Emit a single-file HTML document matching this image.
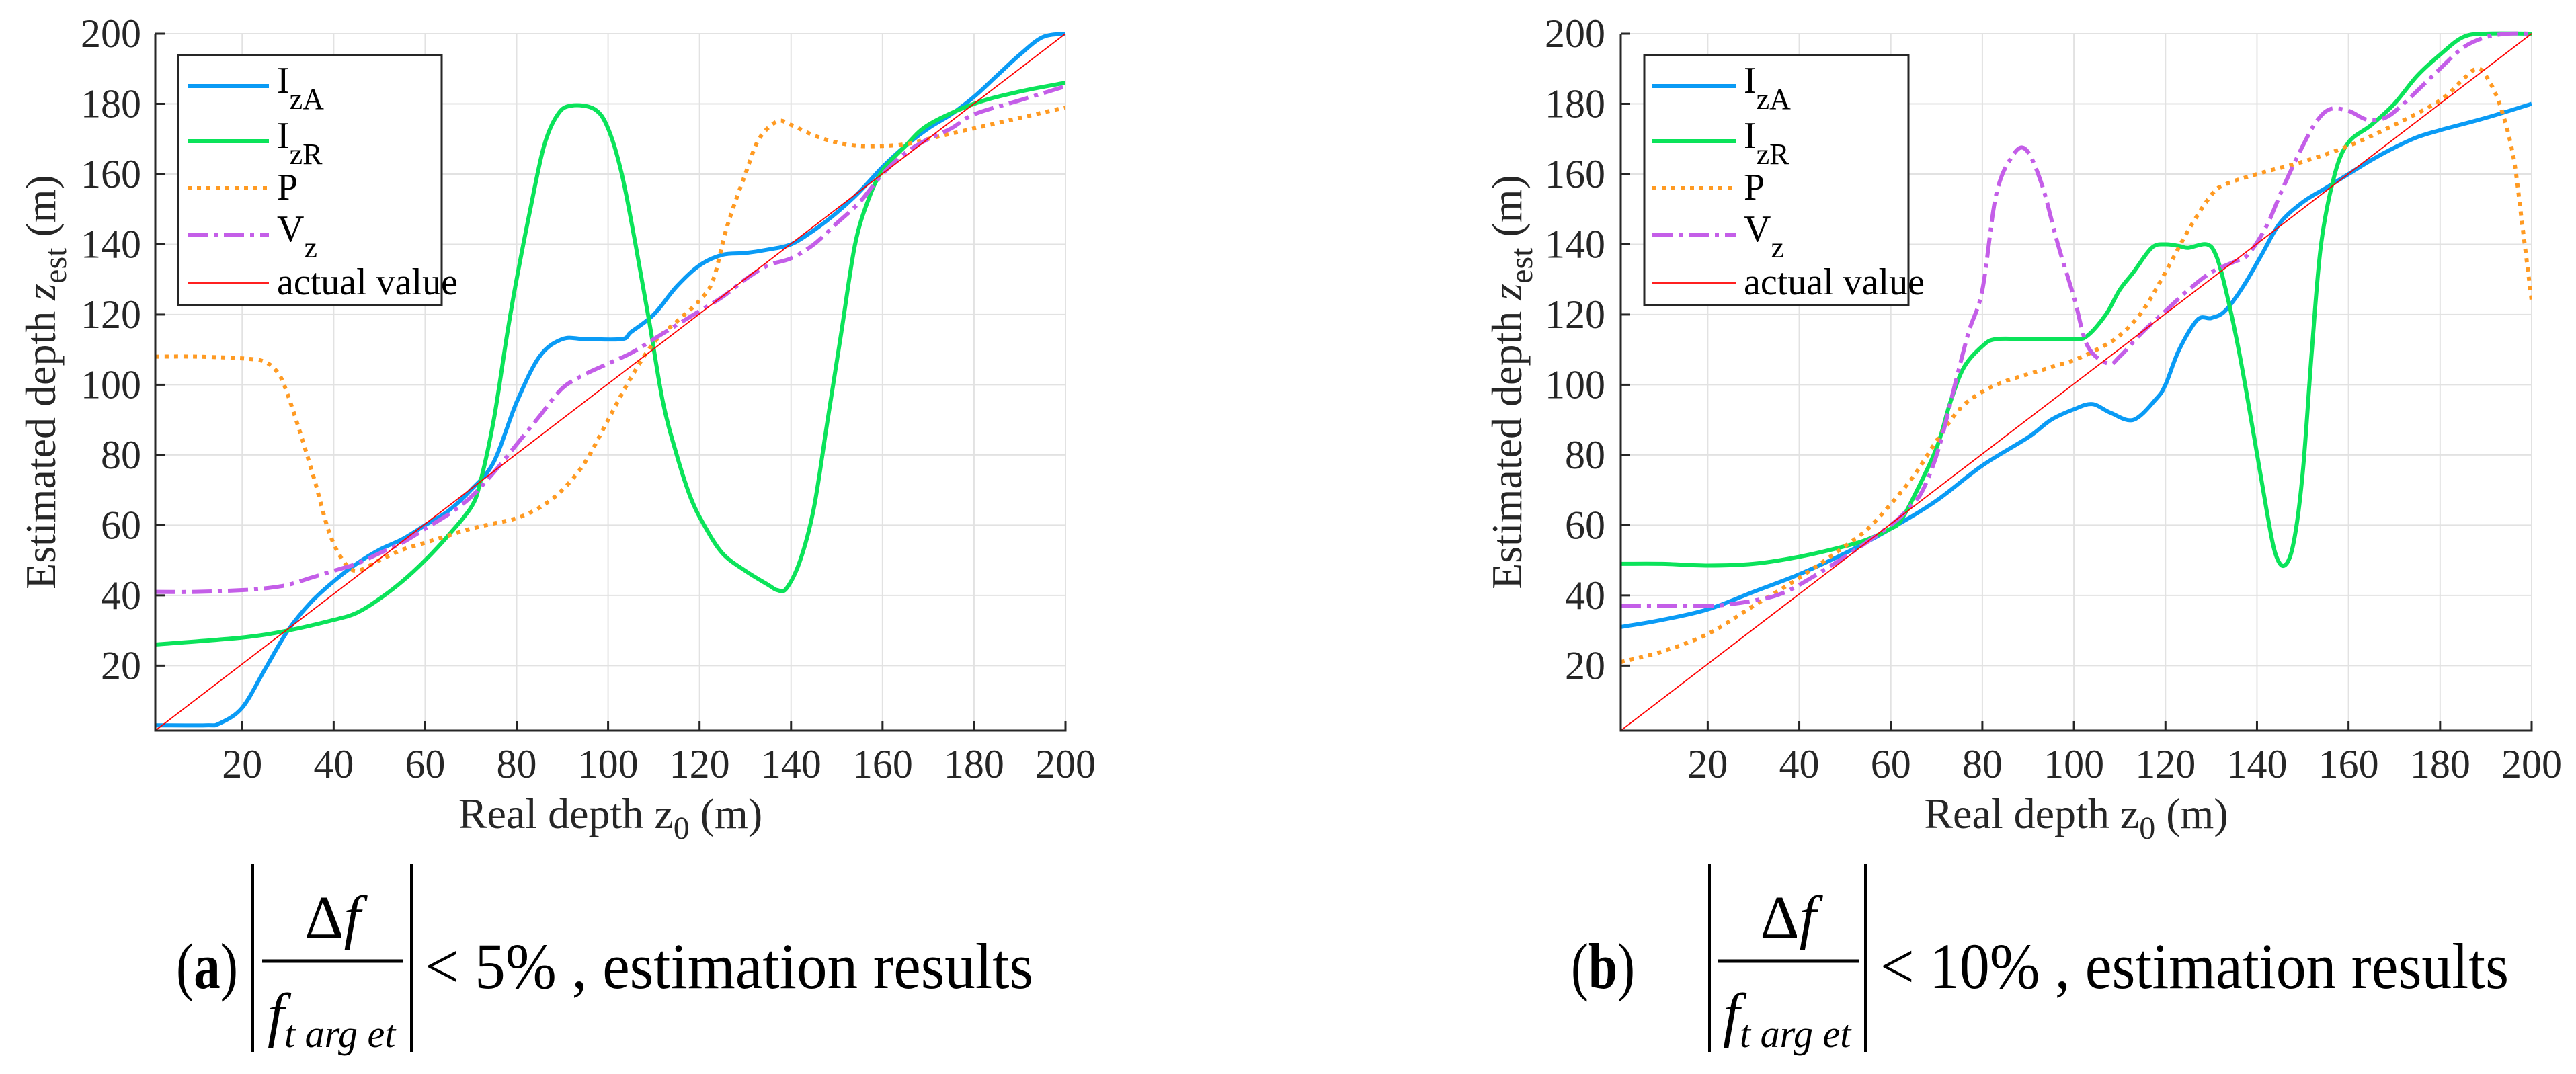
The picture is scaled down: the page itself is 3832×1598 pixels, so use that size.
<!DOCTYPE html>
<html><head><meta charset="utf-8"><style>
html,body{margin:0;padding:0;background:#fff;}
svg{display:block;font-family:"Liberation Serif",serif;}
</style></head><body>
<svg id="fig" width="3832" height="1598" viewBox="0 0 3832 1598" xmlns="http://www.w3.org/2000/svg">
<g id="panelA"></g>
<g id="panelB"></g>
<g font-size="96" fill="#000">
  <text x="262" y="1470" textLength="92" lengthAdjust="spacingAndGlyphs">(<tspan font-weight="bold">a</tspan>)</text>
  <line x1="376" y1="1285" x2="376" y2="1565" stroke="#000" stroke-width="4"/>
  <line x1="612" y1="1285" x2="612" y2="1565" stroke="#000" stroke-width="4"/>
  <line x1="390" y1="1430" x2="600" y2="1430" stroke="#000" stroke-width="5"/>
  <text x="495" y="1395" text-anchor="middle" font-size="90">Δ<tspan font-style="italic">f</tspan></text>
  <text x="398" y="1540" font-style="italic" font-size="90">f<tspan font-size="58" dy="18">t arg et</tspan></text>
  <text x="632" y="1470" textLength="905" lengthAdjust="spacingAndGlyphs">&lt; 5% , estimation results</text>
</g>
<g font-size="96" fill="#000">
  <text x="2337" y="1470" textLength="95" lengthAdjust="spacingAndGlyphs">(<tspan font-weight="bold">b</tspan>)</text>
  <line x1="2543" y1="1285" x2="2543" y2="1565" stroke="#000" stroke-width="4"/>
  <line x1="2775" y1="1285" x2="2775" y2="1565" stroke="#000" stroke-width="4"/>
  <line x1="2555" y1="1430" x2="2765" y2="1430" stroke="#000" stroke-width="5"/>
  <text x="2660" y="1395" text-anchor="middle" font-size="90">Δ<tspan font-style="italic">f</tspan></text>
  <text x="2563" y="1540" font-style="italic" font-size="90">f<tspan font-size="58" dy="18">t arg et</tspan></text>
  <text x="2797" y="1470" textLength="935" lengthAdjust="spacingAndGlyphs">&lt; 10% , estimation results</text>
</g>
</svg>
<script>
// ---- data (panel a) ----
const aIzA_x=[1,12,15,20,25,30,35,40,45,50,55,60,65,70,75,80,85,90,95,103,105,110,115,120,125,130,135,140,145,150,155,160,165,170,175,180,185,190,195,200];
const aIzA_y=[3,3,3.5,8,19,30,38,44,49,53,56,60,64,70,78,95,108,113,113,113,115,120,128,134,137,137.5,138.5,140,144,149,155,162,168,173,177,182,188,194,199,200];
const aIzR_x=[1,20,30,40,45,50,55,60,65,70,72,75,78,80,83,86,89,92,97,100,103,106,109,112,115,118,121,125,130,135,137,139,142,145,148,151,154,157,160,165,170,180,190,200];
const aIzR_y=[26,28,30,33,35,39,44,50,57,65,72,90,115,130,150,168,177,179.5,178.5,173,160,140,118,95,80,68,60,52,47,43,41.5,42,50,65,90,115,140,153,161,168,174,180,183.5,186];
const aP_x=[1,10,20,25,28,30,33,36,39,42,45,50,55,60,65,70,75,80,85,90,95,100,105,110,115,120,123,126,130,133,137,140,145,150,155,160,165,170,180,190,200];
const aP_y=[108,108,107.5,106.5,103,97,85,72,58,50,47,50,53,55,57,59,60.5,62,65,70,78,90,102,112,118,124,130,145,160,170,175,174,171,169,168,168,168.5,170,173,176,179];
const aV_x=[1,10,20,25,30,35,40,45,50,55,60,65,70,75,80,85,90,95,100,105,110,115,120,125,130,135,140,145,150,155,160,165,170,175,180,190,200];
const aV_y=[41,41,41.5,42,43,45,47,49,52,55,59,63,68,75,83,91,99,103,106,109,113,117,121,125,130,134,136,140,146,152,160,166,170,173,177,181,185];
// ---- data (panel b) ----
const bIzA_x=[1,10,20,30,40,50,60,70,80,90,95,100,104,108,113,118,120,123,127,130,133,137,141,145,150,155,160,165,170,175,180,190,200];
const bIzA_y=[31,33,36,41,46,52,59,67,77,85,90,93,94.5,92,90,96,100,110,118.5,119,121,128,137,146,152,156,160,164,167.5,170.5,172.5,176,180];
const bIzR_x=[1,10,20,30,40,50,55,60,62,65,70,73,76,80,83,90,100,103,107,110,113,117,120,123,125,129,131,133,136,139,142,144,146,148,150,152,154,157,160,165,170,175,180,185,190,200];
const bIzR_y=[49,49,48.5,49,51,54,56,59,61,68,82,95,105,111,113,113,113,114,120,127,132,139,140,139.5,139,140,137,128,110,88,65,52,48.5,55,75,110,140,160,169,174,180,188,194,199,200,200];
const bP_x=[1,10,20,30,40,50,55,60,65,70,75,80,85,90,95,100,105,110,115,120,125,130,133,140,150,160,170,180,185,188,190,193,196,198,200];
const bP_y=[21,24,29,37,45,54,59,66,74,84,93,98,101,103,105,107,110,114,121,132,144,154,157,160,163.5,168,174,181,187,190,188,180,165,145,124];
const bV_x=[1,10,20,25,30,35,40,50,60,64,67,70.5,74,77,80,83,86.5,89.5,93,96.5,100,103,107.5,110,115,120,125,130,135,138,142,146,150,153,156,160,164,168,172,176,180,185,190,195,200];
const bV_y=[37,37,37,37.5,38.5,40,43,51,60,65,70,82,100,115,127,154,165,167,157,140,125,111,106,108,115,121,127,132,135,137,145,157,168,175,178.5,178,175.5,176,180,185,190,196,199,200,200];
const xTicks=[20,40,60,80,100,120,140,160,180,200];
const yTicks=[20,40,60,80,100,120,140,160,180,200];
const legendLabels=[["I","zA"],["I","zR"],["P",""],["V","z"],["actual value",""]];

const NS="http://www.w3.org/2000/svg";
function mk(tag,attrs,parent){const e=document.createElementNS(NS,tag);for(const k in attrs)e.setAttribute(k,attrs[k]);parent.appendChild(e);return e;}
function smoothPath(pts){
  let d="M"+pts[0][0].toFixed(1)+","+pts[0][1].toFixed(1);
  for(let i=0;i<pts.length-1;i++){
    const p0=pts[Math.max(i-1,0)],p1=pts[i],p2=pts[i+1],p3=pts[Math.min(i+2,pts.length-1)];
    const c1=[p1[0]+(p2[0]-p0[0])/6,p1[1]+(p2[1]-p0[1])/6];
    const c2=[p2[0]-(p3[0]-p1[0])/6,p2[1]-(p3[1]-p1[1])/6];
    d+=" C"+c1[0].toFixed(1)+","+c1[1].toFixed(1)+" "+c2[0].toFixed(1)+","+c2[1].toFixed(1)+" "+p2[0].toFixed(1)+","+p2[1].toFixed(1);
  }
  return d;
}
const styles=[
  {stroke:"#0a9bf5",w:6,dash:""},
  {stroke:"#0be35a",w:6,dash:""},
  {stroke:"#ff9a22",w:6,dash:"6 8"},
  {stroke:"#c45ee8",w:6,dash:"30 9 6 9"},
  {stroke:"#ff0000",w:1.8,dash:""}
];
const seriesNames=["series-iza","series-izr","series-p","series-vz","actual-value-line"];

function drawPanel(g,L,R,T,B,series,ylabRight,ytitleX,leg){
  const xmin=1,xmax=200,ymin=1.5,ymax=200;
  const sx=v=>L+(v-xmin)/(xmax-xmin)*(R-L);
  const sy=v=>B-(v-ymin)/(ymax-ymin)*(B-T);
  xTicks.forEach(t=>{const l=mk("line",{x1:sx(t),x2:sx(t),y1:T,y2:B,stroke:"#e2e2e2","stroke-width":2},g);
    
    });
  yTicks.forEach(t=>{const l=mk("line",{x1:L,x2:R,y1:sy(t),y2:sy(t),stroke:"#e2e2e2","stroke-width":2},g);
    
    });
  const clipId="clip"+L;
  const cp=mk("clipPath",{id:clipId},g);mk("rect",{x:L,y:T-4,width:R-L,height:B-T+8},cp);
  const sg=mk("g",{"clip-path":"url(#"+clipId+")"},g);
  series.forEach((s,i)=>{
    const st=styles[i];
    const pts=s[0].map((x,j)=>[sx(x),sy(s[1][j])]);
    const p=mk("path",{d:smoothPath(pts),fill:"none",stroke:st.stroke,"stroke-width":st.w,"stroke-dasharray":st.dash,"stroke-linejoin":"round"},sg);
    
    
  });
  const red=mk("line",{x1:sx(1),y1:B,x2:sx(200),y2:sy(200),stroke:"#ff0000","stroke-width":1.8},sg);
  
  
  const ax=mk("path",{d:`M${L},${T} L${L},${B} L${R},${B} L${R},${B-14}`,fill:"none",stroke:"#262626","stroke-width":3},g);
  
  
  xTicks.forEach(t=>{mk("line",{x1:sx(t),x2:sx(t),y1:B,y2:B-14,stroke:"#262626","stroke-width":3},g);
    const tx=mk("text",{x:sx(t),y:B+70,"text-anchor":"middle","font-size":60,fill:"#262626"},g);tx.textContent=t;
    
    });
  yTicks.forEach(t=>{mk("line",{x1:L,x2:L+14,y1:sy(t),y2:sy(t),stroke:"#262626","stroke-width":3},g);
    const tx=mk("text",{x:ylabRight,y:sy(t)+20,"text-anchor":"end","font-size":60,fill:"#262626"},g);tx.textContent=t;
    
    });
  const xt=mk("text",{x:(L+R)/2,y:B+145,"text-anchor":"middle","font-size":64,fill:"#262626"},g);
  xt.innerHTML='Real depth z<tspan font-size="48" dy="16">0</tspan><tspan dy="-16"> (m)</tspan>';
  
  
  const yt=mk("text",{x:0,y:0,"text-anchor":"middle","font-size":64,fill:"#262626",transform:`translate(${ytitleX},${(T+B)/2}) rotate(-90)`},g);
  yt.innerHTML='Estimated depth <tspan font-style="italic">z</tspan><tspan font-size="48" dy="16">est</tspan><tspan dy="-16"> (m)</tspan>';
  
  
  const lg=mk("g",{},g);
  
  
  mk("rect",{x:leg.x,y:leg.y,width:leg.w,height:leg.h,fill:"#fff",stroke:"#262626","stroke-width":3},lg);
  const rows=[128,210,280,349,421];
  legendLabels.forEach((lab,i)=>{
    const st=styles[i];
    const e=mk("g",{},lg);
    
    
    mk("line",{x1:leg.lx1,x2:leg.lx2,y1:rows[i],y2:rows[i],stroke:st.stroke,"stroke-width":st.w,"stroke-dasharray":st.dash},e);
    const tx=mk("text",{x:leg.tx,y:rows[i]+(lab[1]?10:17),"font-size":56,fill:"#000"},e);
    tx.innerHTML=lab[0]+(lab[1]?'<tspan font-size="44" dy="24">'+lab[1]+'</tspan>':'');
  });
}
drawPanel(document.getElementById("panelA"),231,1585,50,1087,
  [[aIzA_x,aIzA_y],[aIzR_x,aIzR_y],[aP_x,aP_y],[aV_x,aV_y]],210,82,
  {x:265,y:82,w:392,h:372,lx1:279,lx2:400,tx:412});
drawPanel(document.getElementById("panelB"),2411,3766,50,1087,
  [[bIzA_x,bIzA_y],[bIzR_x,bIzR_y],[bP_x,bP_y],[bV_x,bV_y]],2388,2263,
  {x:2446,y:82,w:393,h:372,lx1:2458,lx2:2582,tx:2594});
</script>
</body></html>
